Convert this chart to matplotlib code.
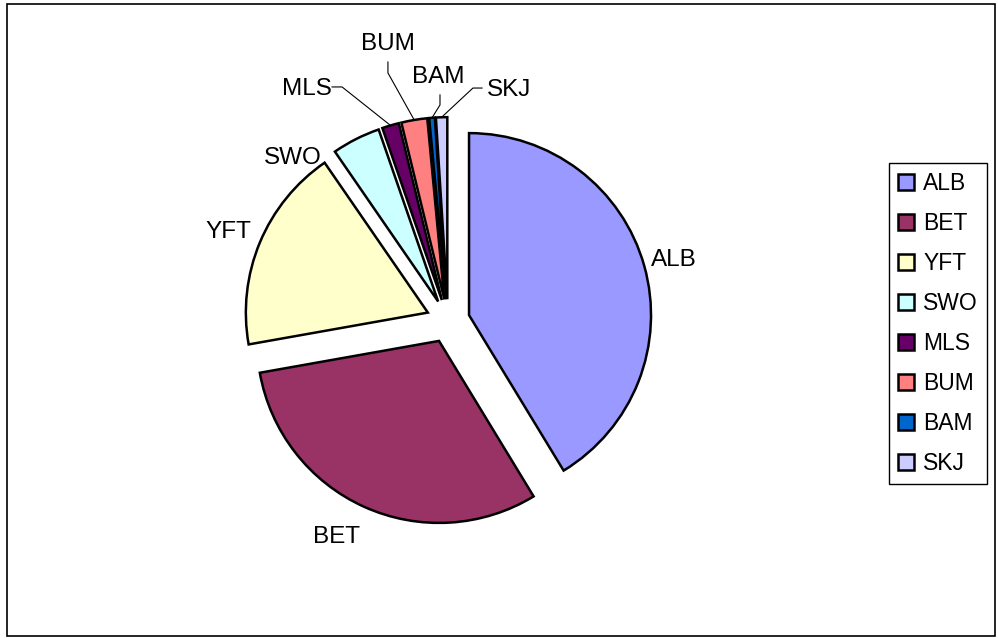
import matplotlib.pyplot as plt
import numpy as np
from matplotlib.patches import Rectangle

plt.rcParams['font.family'] = ['Liberation Sans', 'DejaVu Sans']

# -------------------------------
# DATA (share of catch, %)
# -------------------------------
species = ["ALB", "BET", "YFT", "SWO", "MLS", "BUM", "BAM", "SKJ"]
share = [41.3, 30.9, 18.2, 4.3, 1.5, 2.3, 0.5, 1.0]
colors = ["#9999FF", "#993366", "#FFFFCC", "#CCFFFF",
          "#660066", "#FF8080", "#0066CC", "#CCCCFF"]

# label placement (data units, pie radius = 1)
label_pos = {
    "ALB": (1.239, 0.304, "center"),
    "BET": (-0.613, -1.222, "center"),
    "YFT": (-1.206, 0.456, "center"),
    "SWO": (-0.854, 0.863, "center"),
    "MLS": (-0.640, 1.242, "right"),
    "BUM": (-0.330, 1.489, "center"),
    "BAM": (-0.055, 1.308, "center"),
    "SKJ": (0.214, 1.236, "left"),
}
# leader lines: start near label, elbow, then to wedge outer midpoint
leaders = {
    "MLS": [(-0.637, 1.286), (-0.582, 1.286)],
    "BUM": [(-0.330, 1.423), (-0.330, 1.363)],
    "BAM": [(-0.044, 1.242), (-0.044, 1.187)],
    "SKJ": [(0.187, 1.280), (0.137, 1.280)],
}

W, H = 998, 638
fig = plt.figure(figsize=(W / 100, H / 100), dpi=100)

# pie centre / radius in pixels
cx, cy, R = 448, 321, 182
lim = 1.6
half = lim * R
ax = fig.add_axes([(cx - half) / W, (H - cy - half) / H, 2 * half / W, 2 * half / H])

explode = [0.12] * len(share)
wedges, _ = ax.pie(share, colors=colors, explode=explode, startangle=90,
                   counterclock=False, radius=1.0,
                   wedgeprops=dict(edgecolor="black", linewidth=1.8))
ax.set_xlim(-lim, lim)
ax.set_ylim(-lim, lim)
ax.axis("off")
for w in wedges:
    w.set_clip_on(False)

for w, name in zip(wedges, species):
    x, y, ha = label_pos[name]
    ax.text(x, y, name, ha=ha, va="baseline", fontsize=17.5, color="black")
    if name in leaders:
        mid = np.deg2rad((w.theta1 + w.theta2) / 2)
        ox, oy = w.center
        tip = (ox + np.cos(mid) * w.r, oy + np.sin(mid) * w.r)
        pts = leaders[name] + [tip]
        ax.plot([p[0] for p in pts], [p[1] for p in pts], color="black",
                lw=0.8, clip_on=False)

leg = fig.legend(wedges, species, loc="upper left",
                 bbox_to_anchor=(889 / W, 1 - 163 / H),
                 fontsize=16.5, frameon=True, fancybox=False,
                 edgecolor="black", framealpha=1, borderaxespad=0,
                 handlelength=0.7, handleheight=0.7, handletextpad=0.4,
                 labelspacing=0.74, borderpad=0.4)
leg.get_frame().set_linewidth(1.0)

# outer chart border
fig.patches.append(Rectangle((7 / W, 2 / H), 988 / W, 632 / H,
                             transform=fig.transFigure, fill=False,
                             edgecolor="black", linewidth=1.2))

fig.savefig("out.png", dpi=100)
